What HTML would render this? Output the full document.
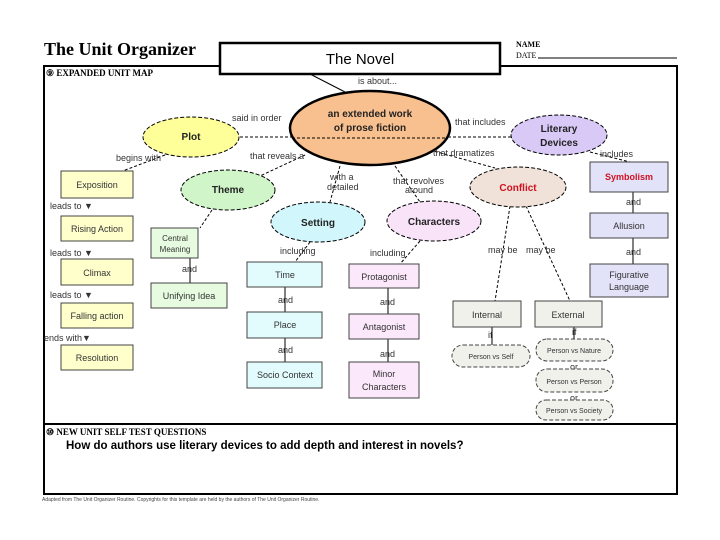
<!DOCTYPE html>
<html><head><meta charset="utf-8"><style>
body{margin:0;background:#fff}
svg{display:block}
text{font-family:"Liberation Sans",sans-serif}
.s{font-size:9px;fill:#333}
.b{font-weight:bold;font-size:10px;fill:#222}
</style></head><body>
<svg width="720" height="540" viewBox="0 0 720 540">
<rect width="720" height="540" fill="#fff"/>
<text x="44" y="55" style="font-family:'Liberation Serif',serif" font-weight="bold" font-size="18">The Unit Organizer</text>
<text x="516" y="47" style="font-family:'Liberation Serif',serif" font-size="8" font-weight="bold">NAME</text>
<text x="516" y="58" style="font-family:'Liberation Serif',serif" font-size="8">DATE</text>
<line x1="538" y1="58" x2="677" y2="58" stroke="#000"/>
<rect x="44" y="66" width="633" height="428" fill="none" stroke="#000" stroke-width="2"/>
<line x1="44" y1="424" x2="677" y2="424" stroke="#000" stroke-width="2"/>
<rect x="220" y="43" width="280" height="31" fill="#fff" stroke="#000" stroke-width="2.5"/>
<text x="360" y="64" text-anchor="middle" font-size="15">The Novel</text>
<text x="46" y="76" style="font-family:'Liberation Serif',serif" font-size="9" font-weight="bold">⑨ EXPANDED UNIT MAP</text>
<text x="358" y="84" class="s" font-size="7">is about...</text>
<line x1="310" y1="74" x2="345" y2="92" stroke="#000"/>
<g stroke="#000" stroke-dasharray="3,2" fill="none">
<line x1="240" y1="137" x2="295" y2="137"/>
<line x1="448" y1="137" x2="512" y2="137"/>
<line x1="165" y1="155" x2="120" y2="172"/>
<line x1="305" y1="155" x2="260" y2="176"/>
<line x1="340" y1="166" x2="330" y2="202"/>
<line x1="395" y1="166" x2="420" y2="202"/>
<line x1="430" y1="150" x2="495" y2="168"/>
<line x1="590" y1="152" x2="630" y2="162"/>
<line x1="212" y1="210" x2="200" y2="228"/>
<line x1="310" y1="242" x2="295" y2="262"/>
<line x1="420" y1="241" x2="400" y2="264"/>
<line x1="510" y1="206" x2="495" y2="301"/>
<line x1="526" y1="206" x2="570" y2="301"/>
</g>
<g stroke="#000" fill="none">
<line x1="190" y1="258" x2="190" y2="283"/>
<line x1="285" y1="287" x2="285" y2="312"/><line x1="285" y1="338" x2="285" y2="362"/>
<line x1="388" y1="288" x2="388" y2="314"/><line x1="388" y1="339" x2="388" y2="362"/>
<line x1="633" y1="192" x2="633" y2="213"/><line x1="633" y1="238" x2="633" y2="264"/>
<line x1="492" y1="327" x2="492" y2="345"/><line x1="574" y1="327" x2="574" y2="339"/>
</g>
<ellipse cx="370" cy="128" rx="80" ry="37" fill="#f9c08f" stroke="#000" stroke-width="2.5"/>
<line x1="292" y1="138" x2="448" y2="138" stroke="#000" stroke-dasharray="3,2"/>
<text x="370" y="117" text-anchor="middle" class="b" font-size="11.5">an extended work</text>
<text x="370" y="131" text-anchor="middle" class="b" font-size="11.5" font-weight="normal">of prose fiction</text>
<g stroke="#000" stroke-dasharray="4,2" stroke-width="1">
<ellipse cx="191" cy="137" rx="48" ry="20" fill="#ffff99"/>
<ellipse cx="559" cy="135" rx="48" ry="20" fill="#d9c9f7"/>
<ellipse cx="228" cy="190" rx="47" ry="20" fill="#cff5c9"/>
<ellipse cx="318" cy="222" rx="47" ry="20" fill="#d1f6fb"/>
<ellipse cx="434" cy="221" rx="47" ry="20" fill="#f9e3f9"/>
<ellipse cx="518" cy="187" rx="48" ry="20" fill="#f0e2d8"/>
</g>
<text x="191" y="140" text-anchor="middle" class="b">Plot</text>
<text x="559" y="132" text-anchor="middle" class="b">Literary</text>
<text x="559" y="146" text-anchor="middle" class="b">Devices</text>
<text x="228" y="193" text-anchor="middle" class="b">Theme</text>
<text x="318" y="226" text-anchor="middle" class="b">Setting</text>
<text x="434" y="225" text-anchor="middle" class="b">Characters</text>
<text x="518" y="191" text-anchor="middle" class="b" style="fill:#d01020">Conflict</text>
<g class="s" font-size="8">
<text x="232" y="121">said in order</text>
<text x="455" y="125">that includes</text>
<text x="250" y="159">that reveals a</text>
<text x="433" y="156">that dramatizes</text>
<text x="600" y="157">includes</text>
<text x="330" y="180">with a</text><text x="327" y="190">detailed</text>
<text x="393" y="184">that revolves</text><text x="405" y="193">around</text>
<text x="116" y="161">begins with</text>
<text x="50" y="209">leads to ▼</text>
<text x="50" y="256">leads to ▼</text>
<text x="50" y="298">leads to ▼</text>
<text x="44" y="341">ends with▼</text>
<text x="182" y="272">and</text>
<text x="280" y="254">including</text>
<text x="370" y="256">including</text>
<text x="278" y="303">and</text><text x="278" y="353">and</text>
<text x="380" y="305">and</text><text x="380" y="357">and</text>
<text x="488" y="253">may be</text><text x="526" y="253">may be</text>
<text x="626" y="205">and</text><text x="626" y="255">and</text>
<text x="488" y="338">if</text><text x="572" y="335">if</text>
<text x="570" y="370">or</text><text x="570" y="401">or</text>
</g>
<g stroke="#444" stroke-width="1">
<rect x="61" y="171" width="72" height="27" fill="#ffffcc"/>
<rect x="61" y="216" width="72" height="25" fill="#ffffcc"/>
<rect x="61" y="259" width="72" height="26" fill="#ffffcc"/>
<rect x="61" y="303" width="72" height="25" fill="#ffffcc"/>
<rect x="61" y="345" width="72" height="25" fill="#ffffcc"/>
<rect x="151" y="228" width="47" height="30" fill="#e6fbe0"/>
<rect x="151" y="283" width="76" height="25" fill="#e6fbe0"/>
<rect x="247" y="262" width="75" height="25" fill="#e2fbfd"/>
<rect x="247" y="312" width="75" height="26" fill="#e2fbfd"/>
<rect x="247" y="362" width="75" height="26" fill="#e2fbfd"/>
<rect x="349" y="264" width="70" height="24" fill="#fbe8fb"/>
<rect x="349" y="314" width="70" height="25" fill="#fbe8fb"/>
<rect x="349" y="362" width="70" height="36" fill="#fbe8fb"/>
<rect x="453" y="301" width="68" height="26" fill="#f1f1ec"/>
<rect x="535" y="301" width="67" height="26" fill="#f1f1ec"/>
<rect x="590" y="162" width="78" height="30" fill="#e2e2f9"/>
<rect x="590" y="213" width="78" height="25" fill="#e2e2f9"/>
<rect x="590" y="264" width="78" height="33" fill="#e2e2f9"/>
</g>
<g stroke="#444" stroke-dasharray="4,2" fill="#f1f1ec">
<rect x="452" y="345" width="78" height="22" rx="11"/>
<rect x="536" y="339" width="77" height="22" rx="11"/>
<rect x="536" y="369" width="77" height="23" rx="11"/>
<rect x="536" y="400" width="77" height="20" rx="10"/>
</g>
<g class="s" text-anchor="middle" font-size="9">
<text x="97" y="188">Exposition</text>
<text x="97" y="232">Rising Action</text>
<text x="97" y="276">Climax</text>
<text x="97" y="319">Falling action</text>
<text x="97" y="361">Resolution</text>
<text x="175" y="241" font-size="8">Central</text><text x="175" y="252" font-size="8">Meaning</text>
<text x="189" y="299">Unifying Idea</text>
<text x="285" y="278">Time</text>
<text x="285" y="328">Place</text>
<text x="285" y="378">Socio Context</text>
<text x="384" y="280">Protagonist</text>
<text x="384" y="330">Antagonist</text>
<text x="384" y="377">Minor</text><text x="384" y="390">Characters</text>
<text x="487" y="318">Internal</text>
<text x="568" y="318">External</text>
<text x="629" y="180" style="fill:#d01020" font-weight="bold">Symbolism</text>
<text x="629" y="229">Allusion</text>
<text x="629" y="278">Figurative</text><text x="629" y="290">Language</text>
<text x="491" y="359" font-size="7">Person vs Self</text>
<text x="574" y="353" font-size="7">Person vs Nature</text>
<text x="574" y="384" font-size="7">Person vs Person</text>
<text x="574" y="413" font-size="7">Person vs Society</text>
</g>
<text x="46" y="435" style="font-family:'Liberation Serif',serif" font-size="9" font-weight="bold">⑩ NEW UNIT SELF TEST QUESTIONS</text>
<text x="66" y="449" font-size="11.5" font-weight="bold">How do authors use literary devices to add depth and interest in novels?</text>
<text x="42" y="501" font-size="5" fill="#444">Adapted from The Unit Organizer Routine. Copyrights for this template are held by the authors of The Unit Organizer Routine.</text>
</svg>
</body></html>
